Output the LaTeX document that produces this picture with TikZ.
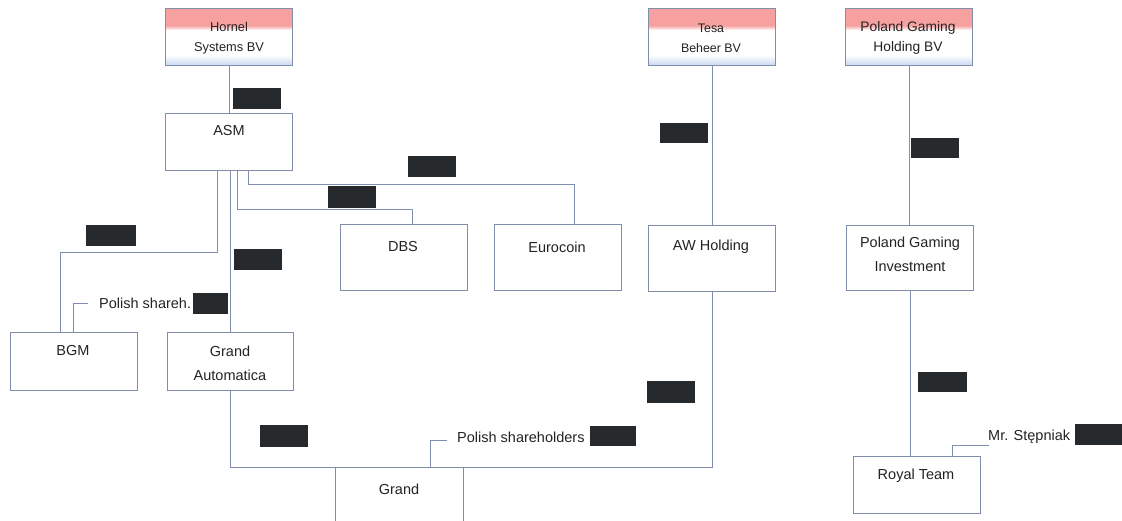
\documentclass[tikz,border=0pt]{standalone}
\usepackage{fontspec}
\setmainfont{Liberation Sans}
\definecolor{boxc}{RGB}{128,142,172}
\definecolor{linec}{RGB}{128,142,176}
\definecolor{hr}{RGB}{246,160,160}
\definecolor{hb}{RGB}{200,214,240}
\definecolor{redact}{RGB}{38,42,44}
\definecolor{txt}{RGB}{35,35,35}
\pgfdeclareverticalshading{hdr}{100bp}{color(0bp)=(hb); color(25bp)=(hb); color(34bp)=(white); color(56bp)=(white); color(60bp)=(hr); color(75bp)=(hr); color(100bp)=(hr)}
\tikzset{
  box/.style={draw=boxc, line width=0.8pt, fill=white, inner sep=0pt, anchor=north west, minimum width=127pt, minimum height=58pt},
  tallbox/.style={box, minimum height=66pt},
  hdrbox/.style={box, minimum height=57pt, shading=hdr},
  lbl/.style={font=\fontsize{14.5}{24}\selectfont, text=txt, inner sep=0pt, align=center},
  hlbl/.style={font=\fontsize{12.8}{20}\selectfont, text=txt, inner sep=0pt, align=center},
  blackout/.style={fill=redact, inner sep=0pt, anchor=north west, minimum width=48pt, minimum height=21pt},
  conn/.style={draw=linec, line width=0.8pt}
}
\begin{document}
\begin{tikzpicture}[x=1pt,y=-1pt]
\useasboundingbox (0,0) rectangle (1122,521);
\clip (0,0) rectangle (1122,521);
% boxes
\node[hdrbox] (hornel) at (165,8) {};
\node[hdrbox] (tesa) at (648,8) {};
\node[hdrbox] (pgh) at (845,8) {};
\node[box, minimum height=57pt] (asm) at (165,113) {};
\node[tallbox] (dbs) at (340,224) {};
\node[tallbox] (euro) at (494,224) {};
\node[tallbox] (aw) at (648,225) {};
\node[tallbox, minimum height=65pt] (pgi) at (846,225) {};
\node[box] (bgm) at (10,332) {};
\node[box, minimum width=126pt] (ga) at (167,332) {};
\node[box, minimum width=128pt, minimum height=70pt] (grand) at (335,467) {};
\node[box, minimum height=57pt] (royal) at (853,456) {};
% box texts
\node[hlbl] (hornel-t) at (229,38) {Hornel\\Systems BV};
\node[hlbl, font=\fontsize{12.4}{20}\selectfont] (tesa-t) at (711,38) {Tesa\\Beheer BV};
\node[hlbl, font=\fontsize{13.8}{20}\selectfont] (pgh-t) at (908,38) {Poland Gaming\\Holding BV};
\node[lbl] (asm-t) at (229,131) {ASM};
\node[lbl] (dbs-t) at (403,247) {DBS};
\node[lbl] (euro-t) at (557,247) {Eurocoin};
\node[lbl] (aw-t) at (711,247) {AW Holding};
\node[lbl] (pgi-t) at (910,254) {Poland Gaming\\Investment};
\node[lbl] (bgm-t) at (73,351) {BGM};
\node[lbl] (ga-t) at (230,363) {Grand\\Automatica};
\node[lbl] (grand-t) at (399,489) {Grand};
\node[lbl] (royal-t) at (916,476) {Royal Team};
% free labels
\node[lbl, anchor=west] (psh-t) at (99,303) {Polish shareh.};
\node[lbl, anchor=west] (pshs-t) at (457,437) {Polish shareholders};
\node[lbl, anchor=west] (step-t) at (988,437) {Mr. Stępniak};
\coordinate (psh-end) at (88,303);
\coordinate (pshs-end) at (447,440);
\coordinate (step-end) at (989,445);
% connectors
\draw[conn] (hornel.south) -- (asm.north);
\draw[conn] ([xshift=52pt]asm.south west) -- ++(0,82) -| ([xshift=50pt]bgm.north west);
\draw[conn] (ga.north |- asm.south) -- (ga.north);
\draw[conn] ([xshift=72pt]asm.south west) -- ++(0,39) -| ([xshift=72pt]dbs.north west);
\draw[conn] ([xshift=83pt]asm.south west) -- ++(0,14) -| ([xshift=80pt]euro.north west);
\draw[conn] (tesa.south) -- (aw.north);
\draw[conn] (pgh.south) -- (pgh.south |- pgi.north);
\draw[conn] (pgi.south) -- (pgi.south |- royal.north);
\draw[conn] (ga.south) |- (grand.north west);
\draw[conn] (aw.south) |- (grand.north east);
\draw[conn] ([xshift=95pt]grand.north west) |- (pshs-end);
\draw[conn] ([xshift=63pt]bgm.north west) |- (psh-end);
\draw[conn] ([xshift=99pt]royal.north west) |- (step-end);
% redactions
\node[blackout] (r1) at (233,88) {};
\node[blackout, minimum height=20pt] (r2) at (660,123) {};
\node[blackout, minimum height=20pt] (r3) at (911,138) {};
\node[blackout] (r4) at (408,156) {};
\node[blackout, minimum height=22pt] (r5) at (328,186) {};
\node[blackout, minimum width=50pt] (r6) at (86,225) {};
\node[blackout] (r7) at (234,249) {};
\node[blackout, minimum width=35pt] (r8) at (193,293) {};
\node[blackout, minimum height=22pt] (r9) at (260,425) {};
\node[blackout, minimum height=22pt] (r10) at (647,381) {};
\node[blackout, minimum width=46pt, minimum height=20pt] (r11) at (590,426) {};
\node[blackout, minimum width=49pt, minimum height=20pt] (r12) at (918,372) {};
\node[blackout, minimum width=47pt] (r13) at (1075,424) {};
\end{tikzpicture}
\end{document}
